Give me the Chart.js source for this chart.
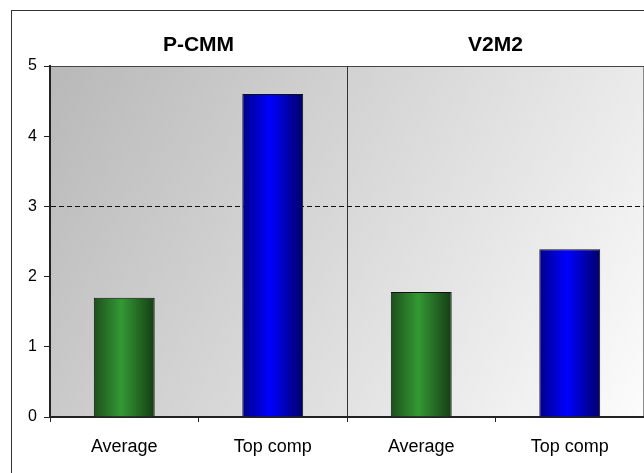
<!DOCTYPE html>
<html>
<head>
<meta charset="utf-8">
<script src="https://cdn.jsdelivr.net/npm/chart.js@4"></script>
<style>
  html, body { margin: 0; padding: 0; background: #fff; overflow: hidden; }
  #wrap { position: relative; width: 644px; height: 473px; }
  #frame { position: absolute; left: 11px; top: 10px; width: 700px; height: 500px; border: 1px solid #333; }
  canvas { position: absolute; left: 0; top: 0; }
</style>
</head>
<body>
<div id="wrap">
  <div id="frame"></div>
  <canvas id="chart" width="644" height="473"></canvas>
</div>
<script>
const categories = ["Average", "Top comp", "Average", "Top comp"];
const groupTitles = ["P-CMM", "V2M2"];
const scores = [1.7, 4.6, 1.78, 2.39];
const yTicks = [0, 1, 2, 3, 4, 5];
const targetLine = 3;

// dark edge, bright middle, dark edge
const green = ["#1d4f1d", "#339933", "#153d15"];
const blue = ["#000088", "#0000ff", "#00006a"];
const barColors = [green, blue, green, blue];

const barPercent = 0.41;
const fontFamily = "'Liberation Sans', Arial, sans-serif";

function barFill(ctx) {
  const chart = ctx.chart;
  const area = chart.chartArea;
  const c = barColors[ctx.dataIndex];
  if (!area) return c[1];
  const x = chart.scales.x.getPixelForValue(ctx.dataIndex);
  const half = (area.right - area.left) / categories.length * barPercent / 2;
  const g = chart.ctx.createLinearGradient(x - half, 0, x + half, 0);
  g.addColorStop(0, c[0]);
  g.addColorStop(0.45, c[1]);
  g.addColorStop(1, c[2]);
  return g;
}

const plotBackground = {
  id: "plotBackground",
  beforeDraw(chart) {
    const { ctx, chartArea: a } = chart;
    const g = ctx.createLinearGradient(a.left, a.top, a.right, a.bottom);
    g.addColorStop(0, "#b8b8b8");
    g.addColorStop(1, "#fcfcfc");
    ctx.save();
    ctx.fillStyle = g;
    ctx.fillRect(a.left, a.top, a.right - a.left, a.bottom - a.top);
    ctx.strokeStyle = "#8a8a8a";
    ctx.lineWidth = 1;
    ctx.beginPath();
    ctx.moveTo(a.right - 0.5, a.top);
    ctx.lineTo(a.right - 0.5, a.bottom);
    ctx.stroke();
    ctx.restore();
  }
};

new Chart(document.getElementById("chart"), {
  type: "bar",
  data: {
    labels: categories,
    datasets: [{
      data: scores,
      backgroundColor: barFill,
      borderColor: "#111",
      borderWidth: 1,
      categoryPercentage: 1,
      barPercentage: barPercent
    }]
  },
  options: {
    responsive: false,
    animation: false,
    layout: { padding: 0 },
    plugins: { legend: { display: false }, tooltip: { enabled: false } },
    scales: {
      x: {
        position: "bottom",
        grid: {
          offset: true,
          color: (c) => (c.index === 2 ? "#333" : "transparent"),
          tickColor: "#222",
          tickLength: 5
        },
        border: { color: "#222", width: 2 },
        ticks: {
          color: "#000",
          padding: 14,
          font: { family: fontFamily, size: 18 }
        },
        afterFit: (s) => { s.height = 56; }
      },
      x2: {
        type: "category",
        labels: groupTitles,
        position: "top",
        grid: { display: false, drawTicks: false },
        border: { color: "#444", width: 1 },
        ticks: {
          color: "#000",
          padding: 8,
          font: { family: fontFamily, size: 21, weight: "bold" }
        },
        afterFit: (s) => { s.height = 66; }
      },
      y: {
        min: yTicks[0],
        max: yTicks[yTicks.length - 1],
        afterBuildTicks: (s) => { s.ticks = yTicks.map((v) => ({ value: v })); },
        grid: {
          color: (c) => (c.tick && c.tick.value === targetLine ? "#111" : "transparent"),
          tickColor: "#222",
          tickLength: 6,
          lineWidth: 1
        },
        border: { color: "#222", width: 2, dash: [5, 3] },
        ticks: {
          color: "#000",
          padding: 7,
          font: { family: fontFamily, size: 16 }
        },
        afterFit: (s) => { s.width = 50; }
      }
    }
  },
  plugins: [plotBackground]
});
</script>
</body>
</html>
